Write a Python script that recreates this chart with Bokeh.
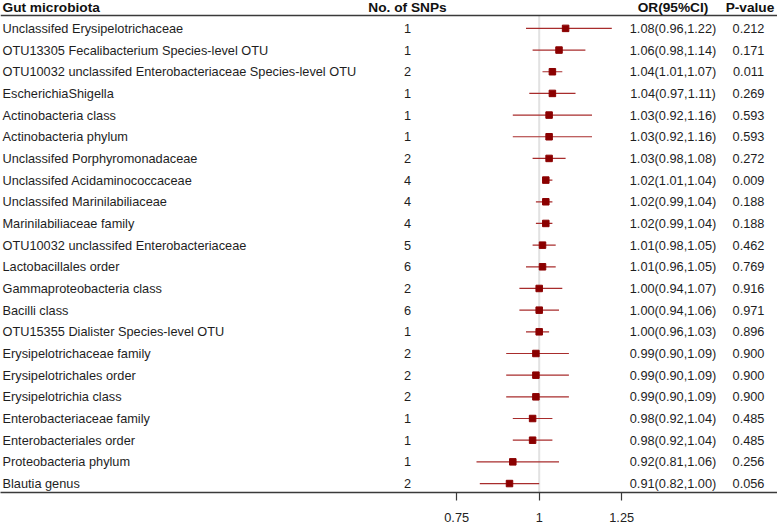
from bokeh.plotting import figure
from bokeh.models import Range1d, FixedTicker, Span, ColumnDataSource
from bokeh.core.properties import value
from bokeh.embed import file_html
from bokeh.resources import INLINE

names = [
    "Unclassifed Erysipelotrichaceae",
    "OTU13305 Fecalibacterium Species-level OTU",
    "OTU10032 unclassifed Enterobacteriaceae Species-level OTU",
    "EscherichiaShigella",
    "Actinobacteria class",
    "Actinobacteria phylum",
    "Unclassifed Porphyromonadaceae",
    "Unclassifed Acidaminococcaceae",
    "Unclassifed Marinilabiliaceae",
    "Marinilabiliaceae family",
    "OTU10032 unclassifed Enterobacteriaceae",
    "Lactobacillales order",
    "Gammaproteobacteria class",
    "Bacilli class",
    "OTU15355 Dialister Species-level OTU",
    "Erysipelotrichaceae family",
    "Erysipelotrichales order",
    "Erysipelotrichia class",
    "Enterobacteriaceae family",
    "Enterobacteriales order",
    "Proteobacteria phylum",
    "Blautia genus",
]
snps = [1, 1, 2, 1, 1, 1, 2, 4, 4, 4, 5, 6, 2, 6, 1, 2, 2, 2, 1, 1, 1, 2]
or_vals = [1.08, 1.06, 1.04, 1.04, 1.03, 1.03, 1.03, 1.02, 1.02, 1.02, 1.01,
           1.01, 1.00, 1.00, 1.00, 0.99, 0.99, 0.99, 0.98, 0.98, 0.92, 0.91]
ci_low = [0.96, 0.98, 1.01, 0.97, 0.92, 0.92, 0.98, 1.01, 0.99, 0.99, 0.98,
          0.96, 0.94, 0.94, 0.96, 0.90, 0.90, 0.90, 0.92, 0.92, 0.81, 0.82]
ci_high = [1.22, 1.14, 1.07, 1.11, 1.16, 1.16, 1.08, 1.04, 1.04, 1.04, 1.05,
           1.05, 1.07, 1.06, 1.03, 1.09, 1.09, 1.09, 1.04, 1.04, 1.06, 1.00]
p_values = ["0.212", "0.171", "0.011", "0.269", "0.593", "0.593", "0.272",
            "0.009", "0.188", "0.188", "0.462", "0.769", "0.916", "0.971",
            "0.896", "0.900", "0.900", "0.900", "0.485", "0.485", "0.256",
            "0.056"]
headers = ["Gut microbiota", "No. of SNPs", "OR(95%CI)", "P-value"]
tick_values = [0.75, 1.0, 1.25]
tick_labels = ["0.75", "1", "1.25"]

FONT = "Liberation Sans"
W, H = 777, 524
X_REF_PX = 538.7      # frame pixel of OR = 1
PX_PER_UNIT = 330.0
ROW_PX = 21.76


def px2x(px):
    return 1.0 + (px - X_REF_PX) / PX_PER_UNIT


x_start = px2x(0)
x_end = px2x(W)
y_top = -28.0 / ROW_PX
y_bottom = 21 + 9.0 / ROW_PX
header_y = -21.0 / ROW_PX
header_line_y = -13.0 / ROW_PX

rows = list(range(len(names)))
or_text = ["%.2f(%.2f,%.2f)" % (o, l, h) for o, l, h in zip(or_vals, ci_low, ci_high)]

src = ColumnDataSource(dict(
    y=rows, name=names, snp=[str(s) for s in snps], ort=or_text, p=p_values,
    orv=or_vals, lo=ci_low, hi=ci_high,
))

p = figure(width=W, height=H, output_backend="svg", toolbar_location=None,
           x_range=Range1d(x_start, x_end), y_range=Range1d(y_bottom, y_top),
           y_axis_location=None, min_border=0, min_border_left=0,
           min_border_right=0, min_border_top=0, min_border_bottom=0)
p.outline_line_color = None
p.xgrid.visible = False
p.ygrid.visible = False
p.background_fill_color = "white"
p.border_fill_color = "white"

ax = p.xaxis[0]
ax.ticker = FixedTicker(ticks=tick_values, minor_ticks=[])
ax.major_label_overrides = dict(zip(tick_values, tick_labels))
ax.axis_line_color = "#3a3a3a"
ax.axis_line_width = 1.5
ax.major_tick_line_color = "#3a3a3a"
ax.major_tick_line_width = 1.2
ax.major_tick_in = 0
ax.major_tick_out = 8
ax.minor_tick_line_color = None
ax.major_label_standoff = 12
ax.major_label_text_font = FONT
ax.major_label_text_font_size = "12.75px"
ax.major_label_text_color = "#222222"

# header line
p.add_layout(Span(location=header_line_y, dimension="width",
                  line_color="#3a3a3a", line_width=1.5))

# reference line at OR = 1
p.segment(x0=[1.0], y0=[header_line_y], x1=[1.0], y1=[y_bottom],
          line_color="#e2e2e2", line_width=2)

# CIs and points
p.segment(x0="lo", y0="y", x1="hi", y1="y", source=src,
          line_color="#a82c2c", line_width=1.2)
p.scatter(x="orv", y="y", source=src, marker="square", size=6.5,
          fill_color="#8b0000", line_color="#8b0000")

txt = dict(text_font=value(FONT), text_font_size="12.75px",
           text_color="#1e1e1e", text_baseline="middle")
p.text(x=px2x(2), y="y", text="name", source=src, text_align="left", **txt)
p.text(x=px2x(407), y="y", text="snp", source=src, text_align="center", **txt)
p.text(x=px2x(672.5), y="y", text="ort", source=src, text_align="center", **txt)
p.text(x=px2x(748), y="y", text="p", source=src, text_align="center", **txt)

hdr = dict(text_font=value(FONT), text_font_size="13.7px",
           text_font_style="bold", text_color="#111111", text_baseline="middle")
p.text(x=[px2x(2)], y=[header_y], text=[headers[0]], text_align="left", **hdr)
p.text(x=[px2x(407)], y=[header_y], text=[headers[1]], text_align="center", **hdr)
p.text(x=[px2x(672.5)], y=[header_y], text=[headers[2]], text_align="center", **hdr)
p.text(x=[px2x(749.5)], y=[header_y], text=[headers[3]], text_align="center", **hdr)

open("out.html", "w").write(file_html(p, INLINE))
